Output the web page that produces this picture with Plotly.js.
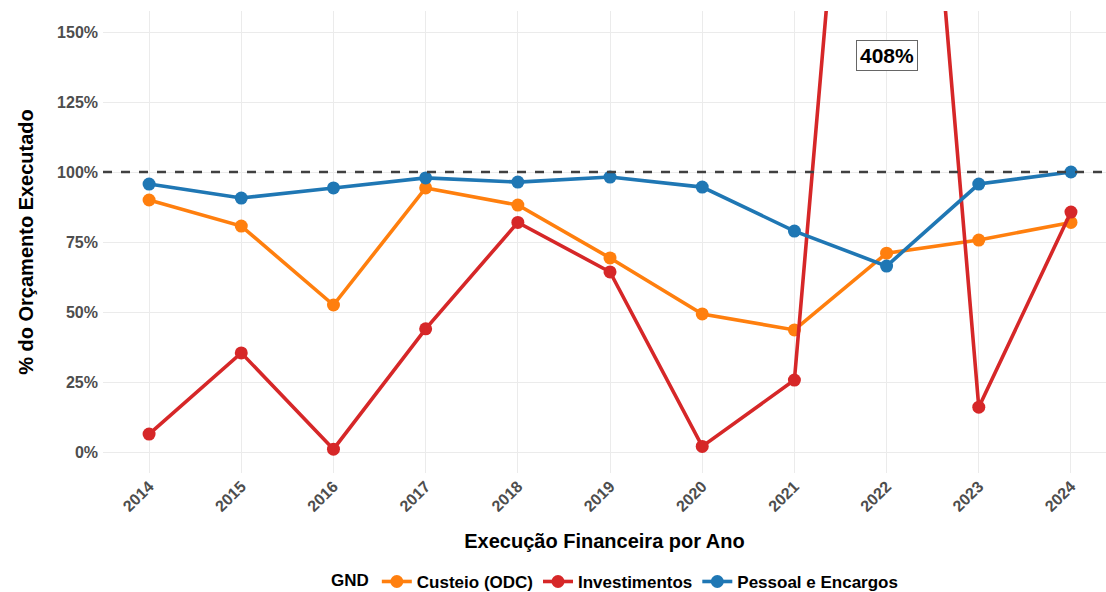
<!DOCTYPE html>
<html>
<head>
<meta charset="utf-8">
<script src="https://cdn.plot.ly/plotly-3.0.1.min.js"></script>
<style>html,body{margin:0;padding:0;background:#fff;}#chart{width:1106px;height:592px;}</style>
</head>
<body>
<div id="chart"></div>
<script>
const years = [2014, 2015, 2016, 2017, 2018, 2019, 2020, 2021, 2022, 2023, 2024];
const custeio = [0.90, 0.807, 0.525, 0.943, 0.882, 0.693, 0.493, 0.436, 0.71, 0.757, 0.82];
const investimentos = [0.064, 0.354, 0.01, 0.44, 0.82, 0.643, 0.02, 0.257, 4.08, 0.16, 0.857];
const pessoal = [0.957, 0.907, 0.943, 0.979, 0.964, 0.982, 0.946, 0.789, 0.664, 0.957, 1.00];
const seriesNames = ["Custeio (ODC)", "Investimentos", "Pessoal e Encargos"];
const seriesColors = ["#ff7f0e", "#d62728", "#1f77b4"];
const yTicks = [0, 0.25, 0.5, 0.75, 1.0, 1.25, 1.5];
const yTickText = ["0%", "25%", "50%", "75%", "100%", "125%", "150%"];
const outlierYear = 2022;
const outlierLabel = "408%";
const outlierLabelY = 1.415;

const FONT = "Liberation Sans, Arial, sans-serif";
const seriesData = [custeio, investimentos, pessoal];
const traces = seriesData.map((vals, i) => ({
  x: years, y: vals, type: "scatter", mode: "lines+markers",
  name: "<b>" + seriesNames[i] + "</b>",
  line: {color: seriesColors[i], width: 3.6},
  marker: {color: seriesColors[i], size: 13},
  cliponaxis: true
}));

const layout = {
  width: 1106, height: 592,
  margin: {l: 103, r: 0, t: 11, b: 119, autoexpand: false},
  paper_bgcolor: "#fff", plot_bgcolor: "#fff",
  font: {family: FONT, color: "#000"},
  showlegend: true,
  legend: {
    orientation: "h", xref: "container", yref: "container",
    x: 0.557, xanchor: "center", y: 0.017, yanchor: "middle",
    title: {text: "<b>GND</b>", font: {size: 17, family: FONT, color: "#000"}},
    font: {size: 17, family: FONT, color: "#000"},
    itemwidth: 30, traceorder: "normal"
  },
  xaxis: {
    range: [2013.5, 2024.38],
    automargin: false,
    tickvals: years, ticktext: years.map(y => "<b>" + y + "</b>"),
    tickangle: -45,
    tickfont: {size: 16, color: "#4d4d4d", family: FONT},
    showgrid: true, gridcolor: "#ebebeb", gridwidth: 1,
    zeroline: false, showline: false, ticks: "",
    title: {text: "<b>Execução Financeira por Ano</b>", font: {size: 20, color: "#000", family: FONT}, standoff: 20}
  },
  yaxis: {
    range: [-0.075, 1.575],
    automargin: false,
    tickvals: yTicks, ticktext: yTickText.map(t => "<b>" + t + "</b>"),
    tickfont: {size: 16, color: "#4d4d4d", family: FONT},
    ticklabelstandoff: 4,
    showgrid: true, gridcolor: "#ebebeb", gridwidth: 1,
    zeroline: false, showline: false, ticks: "",
    title: {text: "<b>% do Orçamento Executado</b>", font: {size: 20, color: "#000", family: FONT}, standoff: 18}
  },
  shapes: [{
    type: "line", xref: "paper", x0: 0, x1: 1, yref: "y", y0: 1, y1: 1,
    line: {color: "#404040", width: 2.4, dash: "dash"}, layer: "above"
  }],
  annotations: [{
    x: outlierYear, y: outlierLabelY, xref: "x", yref: "y",
    text: "<b>" + outlierLabel + "</b>", showarrow: false,
    font: {size: 21, color: "#000", family: FONT},
    bgcolor: "#fff", bordercolor: "#666", borderwidth: 1, borderpad: 3
  }]
};

Plotly.newPlot("chart", traces, layout, {displayModeBar: false, staticPlot: true});
</script>
</body>
</html>
